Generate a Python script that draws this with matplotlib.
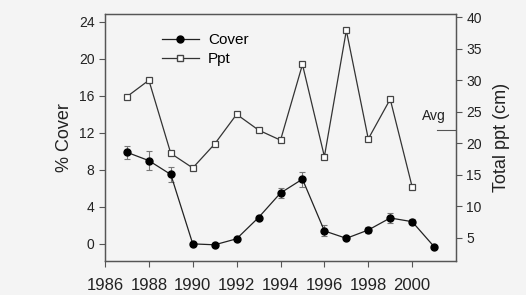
import numpy as np
import matplotlib
matplotlib.use("Agg")
import matplotlib.pyplot as plt
from matplotlib.lines import Line2D

plt.rcParams['font.family'] = ['Liberation Sans', 'DejaVu Sans']

# datos
anios = [1987, 1988, 1989, 1990, 1991, 1992, 1993, 1994, 1995, 1996, 1997, 1998, 1999, 2000, 2001]
cobertura = [9.9, 9.0, 7.5, 0.0, -0.1, 0.55, 2.85, 5.5, 7.0, 1.4, 0.6, 1.5, 2.8, 2.4, -0.3]
error_cob = [0.7, 1.0, 0.8, 0.2, 0.2, 0.2, 0.2, 0.5, 0.8, 0.6, 0.2, 0.3, 0.5, 0.3, 0.1]

anios_ppt = [1987, 1988, 1989, 1990, 1991, 1992, 1993, 1994, 1995, 1996, 1997, 1998, 1999, 2000]
ppt = [27.4, 30.0, 18.4, 16.1, 19.9, 24.6, 22.1, 20.5, 32.5, 17.9, 37.9, 20.7, 27.0, 13.1]
ppt_prom = 22.1

fondo = '#f4f4f4'
fig = plt.figure(figsize=(5.26, 2.95), dpi=100, facecolor=fondo)
ax = fig.add_axes([0.1996, 0.1153, 0.6674, 0.8372])
ax.set_facecolor(fondo)
ax2 = ax.twinx()

ax.errorbar(anios, cobertura, yerr=error_cob, color='#222222', lw=0.9,
            marker='o', ms=5, mfc='black', mec='black',
            ecolor='#777777', elinewidth=0.8, capsize=2, capthick=0.8)
ax2.plot(anios_ppt, ppt, color='#333333', lw=0.9, marker='s', ms=4.8,
         mfc='white', mec='#444444', mew=0.9)

# linea del promedio
ax2.plot([2001.15, 2001.95], [ppt_prom, ppt_prom], color='#555555', lw=0.8)
ax2.text(2001.0, 24.3, 'Avg', ha='center', va='center', fontsize=10, color='#222222')

ax.set_xlim(1986, 2002)
ax.set_ylim(-1.85, 24.85)
ax2.set_ylim(1.35, 40.5)
ax.set_xticks(np.arange(1986, 2001, 2))
ax.set_yticks(np.arange(0, 25, 4))
ax2.set_yticks(np.arange(5, 41, 5))

for a in (ax, ax2):
    for s in a.spines.values():
        s.set_color('#555555')
        s.set_linewidth(0.9)
    a.tick_params(colors='#555555', labelcolor='#222222', labelsize=10,
                  length=4, width=0.8, direction='out')
ax.tick_params(axis='x', labelsize=12, pad=8)

ax.set_ylabel('% Cover', fontsize=13, color='#222222', labelpad=4)
ax2.set_ylabel('Total ppt (cm)', fontsize=13, color='#222222', labelpad=8)

h1 = Line2D([], [], color='#222222', lw=0.9, marker='o', ms=5, mfc='black', mec='black')
h2 = Line2D([], [], color='#333333', lw=0.9, marker='s', ms=4.8, mfc='white', mec='#444444')
fig.legend([h1, h2], ['Cover', 'Ppt'], loc='upper left', bbox_to_anchor=(0.282, 0.935),
           frameon=False, fontsize=11, handlelength=2.4, handletextpad=0.6,
           labelspacing=0.35)

fig.savefig('out.png', dpi=100, facecolor=fondo)
